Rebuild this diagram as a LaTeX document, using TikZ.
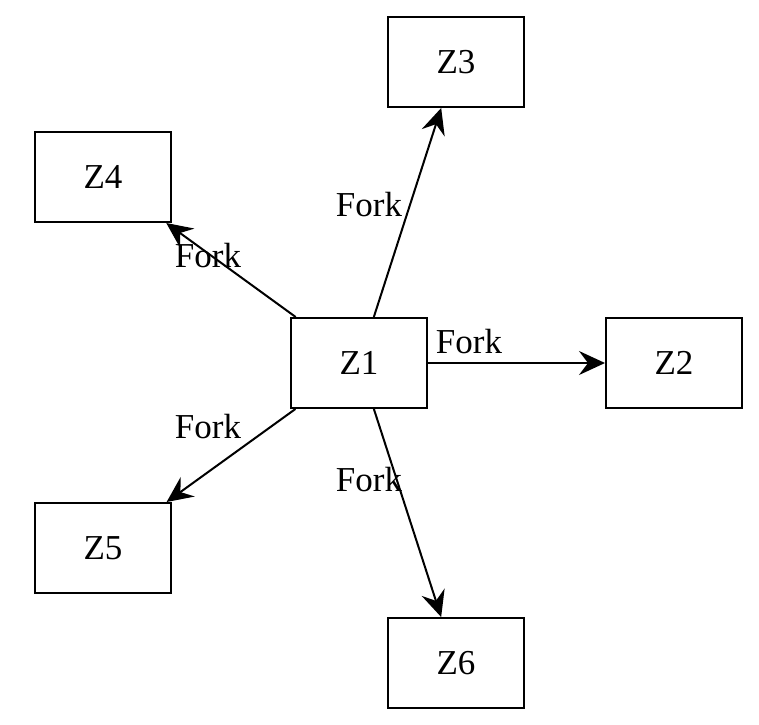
\documentclass[tikz,border=0pt]{standalone}
\usepackage{fontspec}
\setmainfont{Liberation Serif}
\usetikzlibrary{arrows.meta}

\begin{document}
\begin{tikzpicture}[
  x=0.5pt, y=-0.5pt,
  zbox/.style={draw, line width=1pt, minimum width=68pt, minimum height=45pt,
               inner sep=0pt, font=\fontsize{17.5}{21}\selectfont},
  flabel/.style={font=\fontsize{17.5}{21}\selectfont, inner sep=0pt},
  arw/.style={-{Stealth[length=13pt, width=12pt, inset=4.5pt]}, line width=1pt}
]
\useasboundingbox (0,0) rectangle (759,724);
\node[zbox] (z1) at (359,363) {Z1};
\node[zbox] (z2) at (674,363) {Z2};
\node[zbox] (z3) at (456,62) {Z3};
\node[zbox] (z4) at (103,177) {Z4};
\node[zbox] (z5) at (103,548) {Z5};
\node[zbox] (z6) at (456,663) {Z6};

\draw[arw] (z1) -- (z2);
\draw[arw] (z1) -- (z3);
\draw[arw] (z1) -- (z4);
\draw[arw] (z1) -- (z5);
\draw[arw] (z1) -- (z6);

% edge labels
\node[flabel] (l2) at (469,342) {Fork};
\node[flabel] (l3) at (369,205) {Fork};
\node[flabel] (l4) at (208,256) {Fork};
\node[flabel] (l5) at (208,427) {Fork};
\node[flabel] (l6) at (369,480) {Fork};
\end{tikzpicture}
\end{document}
